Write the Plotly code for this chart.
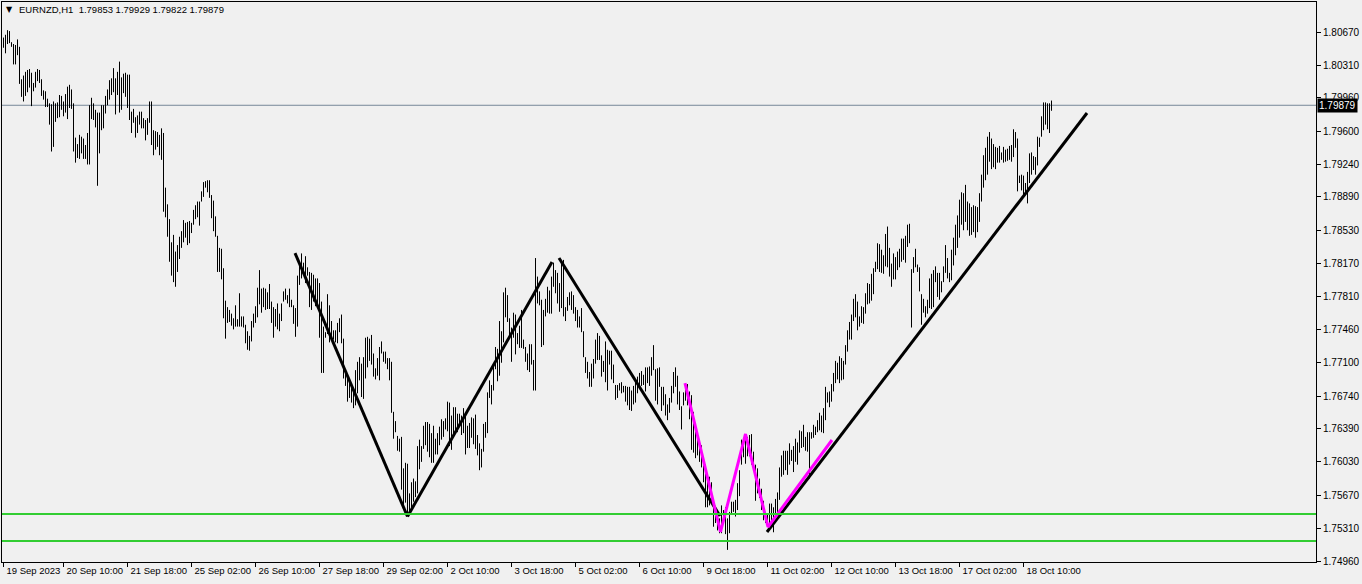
import plotly.graph_objects as go

# ---------------- data ----------------
SYMBOL = "EURNZD,H1"
LAST_OHLC = [1.79853, 1.79929, 1.79822, 1.79879]   # open, high, low, close of last bar
BASE_PRICE = 1.70      # prices below are stored as pips above this base
PIP = 0.0001

HIGH_PIPS = [
    1061, 1064, 1069, 1068, 1056, 1054, 1053, 1059, 1051, 1016,
    1020, 1024, 1026, 1027, 1023, 1012, 1024, 1027, 1026, 1016,
    1004, 1003, 995, 990, 989, 992, 990, 991, 999, 998,
    992, 1000, 1008, 1010, 1005, 990, 953, 946, 956, 954,
    952, 945, 958, 988, 996, 990, 983, 980, 980, 988,
    988, 998, 1005, 1015,
    1017, 1028, 1017, 1024, 1035, 1018,
    1022, 1023, 1021, 1021, 981, 984, 975, 977, 981, 981,
    974, 972, 974, 992, 992, 961, 960, 959, 956, 963,
    958, 899, 881, 865, 840, 848, 830, 837, 846, 852,
    864, 861, 862, 863, 861, 875, 880, 884, 884, 895,
    905, 906, 907, 907,
    891, 885, 868, 847, 834, 833,
    812, 777, 770, 767, 763, 758, 772, 757, 785, 760,
    760, 751, 744, 739, 755, 763, 771, 791, 810, 790,
    791, 790, 786, 795, 776, 770, 768, 774, 763, 774,
    787, 790, 783, 790, 778, 772, 769, 804, 816, 828,
    818, 825, 813, 808, 807, 805, 801, 801, 796,
    776, 749, 743, 784, 772, 755, 745, 745, 753, 758, 762,
    736, 702, 697, 692, 688, 683, 702, 711, 716, 709,
    716, 737, 738, 736, 740, 720, 704, 715, 727, 733,
    722, 722, 715, 715, 711, 657, 647, 631, 628, 630,
    596, 602, 601, 569, 581, 585, 582, 620, 627, 620, 642,
    646, 646, 644, 634, 642, 628, 634, 641, 649,
    647, 650, 668, 667, 653, 662, 662, 655, 655, 653,
    661, 654, 642, 645, 651, 650, 654, 632, 623, 617,
    644, 646, 678, 691, 686, 706, 727, 725, 755, 744,
    786, 791, 783, 758, 748, 764, 762, 742, 750, 767,
    735, 727, 720, 730,
    730, 713, 823, 803, 787, 778,
    767, 779, 792, 788, 803, 818, 810, 807, 796, 821,
    821, 770, 781, 786, 787, 783, 770, 767, 760, 769,
    744, 716, 711, 700, 709, 714, 735, 742, 739, 718,
    712, 733, 724, 723, 723, 708, 686, 686, 688, 689,
    685, 685, 684, 684, 680, 685,
    691, 695, 699, 701,
    697, 705, 705, 706, 716, 729, 703, 704, 705, 684,
    684, 676, 665, 672, 685, 700, 705, 696, 679, 663,
    678, 688, 687, 679, 675, 657, 641, 630, 621, 621,
    608, 600, 591, 587, 581, 559, 551, 549, 542, 556,
    551, 554, 542, 549, 560, 560, 562, 580, 594,
    627, 627, 633, 630, 632, 633, 614, 600, 596, 585, 574,
    561, 549, 546, 558, 558, 554, 563, 570, 597, 610,
    615, 615, 615, 623, 616, 620, 628, 624, 637, 636,
    643, 630, 635, 635, 635, 643, 641, 648, 656, 653,
    661, 684, 678, 679, 687, 699, 712, 710, 717, 715, 712,
    729, 745, 754, 762, 779, 784, 776, 760, 771,
    770, 785, 796, 795, 806, 812, 819, 839, 838, 832,
    826, 849, 857, 834, 817, 828, 824, 830, 833, 844,
    844, 847, 859, 860, 811, 824, 833, 816, 813, 784,
    779, 771, 778, 801, 806, 810, 814, 807, 807, 798,
    814, 837, 823, 807,
    832, 845, 859, 869, 886, 894,
    893, 902, 884, 882, 878, 880, 879, 878, 893, 913,
    934, 942, 954, 959, 952, 946, 943, 942, 944, 937,
    943, 940, 941, 944, 945, 962, 959, 952, 912, 913,
    912, 904, 916, 936, 937, 933, 932, 954, 953, 976,
    991, 991, 990, 990, 993,
]

LOW_PIPS = [
    1050, 1044, 1054, 1055, 1051, 1032, 1032, 1042, 1011, 997,
    992, 998, 1002, 1007, 987, 1003, 1007, 1014, 1012, 998,
    994, 986, 986, 967, 938, 943, 970, 974, 975, 983,
    976, 980, 973, 985, 984, 938, 926, 931, 930, 936,
    930, 930, 924, 924, 973, 972, 964, 901, 936, 961,
    963, 979, 988, 994,
    999, 1002, 978, 999, 980, 983,
    1001, 997, 985, 972, 958, 969, 953, 958, 967, 963,
    963, 950, 956, 969, 945, 934, 940, 943, 934, 929,
    873, 867, 846, 819, 804, 797, 792, 808, 822, 834,
    840, 845, 837, 839, 850, 859, 865, 867, 858, 884,
    889, 899, 894, 888,
    866, 852, 846, 808, 808, 800,
    758, 736, 753, 754, 750, 746, 749, 749, 749, 749,
    748, 731, 724, 723, 733, 748, 753, 759, 773, 764,
    770, 767, 768, 768, 753, 737, 749, 746, 744, 755,
    776, 778, 774, 770, 770, 752, 738, 749, 794, 801,
    805, 796, 804, 770, 767, 776, 771, 774, 737,
    699, 699, 737, 741, 732, 738, 735, 732, 731, 743, 731,
    693, 685, 668, 672, 667, 661, 664, 677, 691, 673,
    671, 693, 705, 712, 708, 695, 692, 696, 691, 720,
    711, 709, 703, 691, 656, 628, 635, 615, 614, 573,
    554, 559, 545, 549, 554, 560, 565, 569, 595, 603, 617,
    621, 614, 608, 602, 602, 611, 611, 621, 627,
    630, 638, 636, 620, 616, 631, 637, 635, 645, 632,
    634, 611, 618, 618, 629, 622, 617, 610, 594, 597,
    614, 629, 634, 672, 665, 680, 703, 690, 696, 710,
    732, 759, 754, 737, 711, 737, 719, 730, 726, 726,
    725, 711, 702, 700,
    708, 680, 680, 774, 772, 727,
    729, 760, 764, 763, 763, 792, 785, 774, 765, 769,
    760, 755, 766, 772, 767, 763, 755, 748, 748, 743,
    716, 699, 693, 684, 684, 693, 709, 713, 713, 695,
    700, 689, 680, 708, 692, 688, 670, 672, 680, 677,
    678, 668, 664, 659, 658, 665,
    667, 677, 682, 685,
    686, 679, 688, 685, 696, 702, 669, 665, 684, 658,
    664, 653, 648, 656, 667, 677, 684, 665, 659, 638,
    664, 669, 664, 649, 616, 613, 607, 610, 603, 597,
    581, 554, 554, 556, 559, 533, 537, 529, 526, 526,
    538, 525, 508, 526, 546, 549, 544, 551, 566,
    600, 608, 601, 609, 609, 600, 597, 561, 569, 564, 551,
    540, 537, 533, 535, 534, 527, 540, 548, 562, 587,
    589, 594, 589, 600, 604, 592, 603, 600, 613, 618,
    619, 615, 614, 585, 628, 629, 632, 635, 637, 635,
    634, 648, 667, 662, 668, 679, 688, 692, 688, 691, 692,
    708, 722, 735, 735, 755, 759, 745, 749, 753,
    752, 763, 773, 774, 777, 784, 808, 811, 808, 807,
    806, 814, 813, 803, 792, 800, 800, 810, 813, 819,
    821, 818, 835, 839, 748, 807, 813, 808, 787, 751,
    764, 759, 763, 769, 768, 770, 797, 781, 778, 786,
    797, 807, 801, 797,
    799, 815, 826, 834, 845, 859,
    853, 862, 853, 847, 848, 851, 845, 851, 862, 884,
    899, 907, 913, 927, 919, 921, 919, 926, 926, 929,
    926, 927, 928, 929, 927, 932, 942, 895, 904, 896,
    890, 893, 882, 904, 913, 918, 913, 923, 943, 954,
    961, 967, 962, 958, 982,
]

Y_TICKS = [1.80670, 1.80310, 1.79960, 1.79600, 1.79240, 1.78890, 1.78530,
           1.78170, 1.77810, 1.77460, 1.77100, 1.76740, 1.76390, 1.76030,
           1.75670, 1.75310, 1.74960]

X_LABELS = ["19 Sep 2023", "20 Sep 10:00", "21 Sep 18:00", "25 Sep 02:00",
            "26 Sep 10:00", "27 Sep 18:00", "29 Sep 02:00", "2 Oct 10:00",
            "3 Oct 18:00", "5 Oct 02:00", "6 Oct 10:00", "9 Oct 18:00",
            "11 Oct 02:00", "12 Oct 10:00", "13 Oct 18:00", "17 Oct 02:00",
            "18 Oct 10:00"]
X_LABEL_BARS = [0, 30, 62, 94, 126, 158, 190, 222, 254, 286, 318, 350,
                382, 414, 446, 478, 510]

SUPPORT_LEVELS = [1.75467, 1.75176]

# user-drawn trend lines: (bar index, price) vertices
BLACK_LINES = [
    [(145.75, 1.78284), (202.0, 1.75440)],
    [(202.0, 1.75440), (274.25, 1.78187)],
    [(277.75, 1.78230), (358.25, 1.75446)],
    [(381.75, 1.75273), (541.75, 1.79796)],
]
MAGENTA_PATH = [(340.75, 1.76881), (358.5, 1.75273), (371.0, 1.76331),
                (382.25, 1.75327), (414.25, 1.76266)]

assert len(HIGH_PIPS) == len(LOW_PIPS)

# ---------------- figure ----------------
def price(p):
    return BASE_PRICE + p * PIP

bx, by = [], []
for i, (h, l) in enumerate(zip(HIGH_PIPS, LOW_PIPS)):
    bx += [i, i, None]
    by += [price(l), price(h), None]

fig = go.Figure()
fig.add_trace(go.Scatter(x=bx, y=by, mode="lines",
                         line=dict(color="#000000", width=1),
                         hoverinfo="skip", showlegend=False))

for seg in BLACK_LINES:
    fig.add_trace(go.Scatter(x=[p[0] for p in seg], y=[p[1] for p in seg],
                             mode="lines", line=dict(color="#000000", width=3),
                             hoverinfo="skip", showlegend=False))

fig.add_trace(go.Scatter(x=[p[0] for p in MAGENTA_PATH], y=[p[1] for p in MAGENTA_PATH],
                         mode="lines", line=dict(color="#FF00FF", width=3),
                         hoverinfo="skip", showlegend=False))

shapes = []
for lvl in SUPPORT_LEVELS:
    shapes.append(dict(type="line", xref="paper", x0=0, x1=1, yref="y", y0=lvl, y1=lvl,
                       line=dict(color="#32CD32", width=2), layer="above"))
shapes.append(dict(type="line", xref="paper", x0=0, x1=1, yref="y",
                   y0=LAST_OHLC[3], y1=LAST_OHLC[3],
                   line=dict(color="#778899", width=1), layer="below"))

FONT = "Liberation Sans, Arial, sans-serif"

annotations = [
    dict(xref="paper", yref="paper", x=0.0015, y=0.986, xanchor="left", yanchor="middle",
         text="▼", showarrow=False, font=dict(family="DejaVu Sans", size=8, color="#000000")),
    dict(xref="paper", yref="paper", x=0.0115, y=0.986, xanchor="left", yanchor="middle",
         text="%s  %.5f %.5f %.5f %.5f" % (SYMBOL, *LAST_OHLC), showarrow=False,
         font=dict(family=FONT, size=9.5, color="#000000")),
    dict(xref="paper", yref="y", x=1, y=LAST_OHLC[3], xanchor="left", yanchor="middle",
         xshift=1, text="%.5f" % LAST_OHLC[3], showarrow=False, bgcolor="#000000",
         borderpad=1, font=dict(family=FONT, size=10, color="#FFFFFF")),
]

W, H = 1362, 584
ML, MR, MT, MB = 2, 46, 2, 22
plot_w = W - ML - MR
x0 = -0.75
x1 = x0 + plot_w / 2.0

fig.update_layout(
    width=W, height=H,
    margin=dict(l=ML, r=MR, t=MT, b=MB, pad=0, autoexpand=False),
    paper_bgcolor="#F0F0F0", plot_bgcolor="#F0F0F0",
    shapes=shapes, annotations=annotations,
    showlegend=False,
    font=dict(family=FONT, size=10, color="#000000"),
    xaxis=dict(range=[x0, x1], showgrid=False, zeroline=False, automargin=False,
               tickmode="array", tickvals=X_LABEL_BARS, ticktext=X_LABELS,
               tickangle=0,
               ticks="outside", ticklen=4, tickcolor="#000000",
               ticklabelposition="outside right", ticklabelshift=2,
               showline=True, linecolor="#000000", linewidth=1, mirror=True,
               tickfont=dict(family=FONT, size=9.5, color="#000000")),
    yaxis=dict(range=[1.749492, 1.809938], side="right", showgrid=False, zeroline=False,
               automargin=False,
               tickmode="array", tickvals=Y_TICKS, ticktext=["%.5f" % v for v in Y_TICKS],
               ticks="outside", ticklen=4, tickcolor="#000000",
               showline=True, linecolor="#000000", linewidth=1, mirror=True,
               tickfont=dict(family=FONT, size=10, color="#000000")),
)

fig.write_html("out.html", config={"displayModeBar": False},
               post_script="document.body.style.margin='0';document.body.style.overflow='hidden';"
                           "document.body.style.background='#F0F0F0';")
